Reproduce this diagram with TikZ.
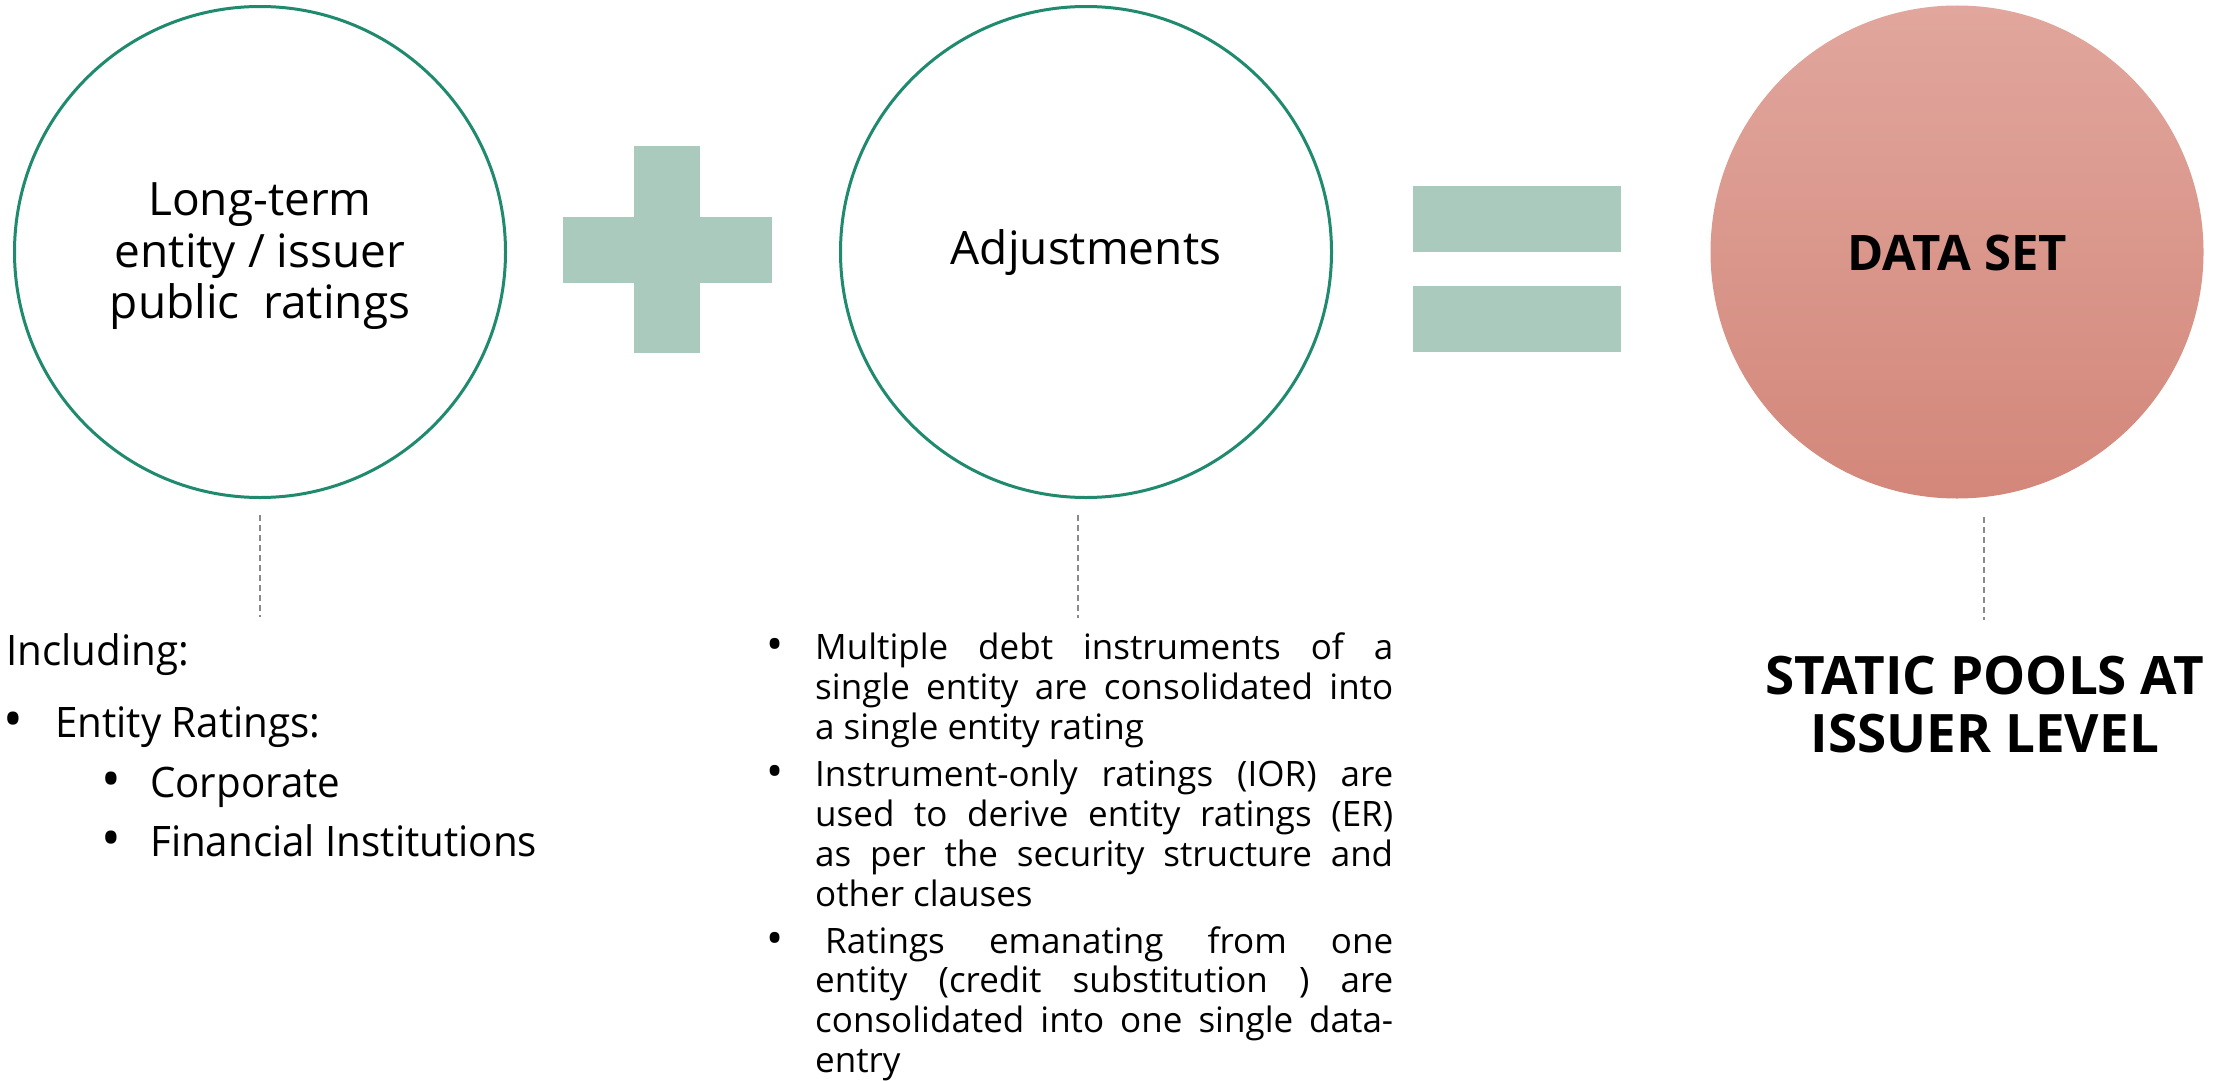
\documentclass[tikz,border=0pt]{standalone}
\usepackage{graphicx}
\usepackage{fontspec}
\setmainfont{Open Sans}
\newfontfamily\leftfont[FakeStretch=0.96]{Open Sans}
\definecolor{ringgreen}{HTML}{1F8A6E}
\definecolor{signgreen}{HTML}{AACABD}
\definecolor{dstop}{HTML}{E1A69D}
\definecolor{dsbot}{HTML}{D3877A}
\definecolor{dashgray}{HTML}{8A8A8A}
\tikzset{
  ring/.style={circle, draw=ringgreen, line width=3pt, minimum size=491pt, inner sep=0pt},
  dataset/.style={circle, draw=none, minimum size=493pt, inner sep=0pt, top color=dstop, bottom color=dsbot},
  sign/.style={fill=signgreen, draw=none},
  dashline/.style={draw=dashgray, line width=1.6pt, dash pattern=on 6pt off 4pt},
  bigtxt/.style={inner sep=0pt, anchor=base, font=\fontsize{46}{52}\selectfont},
  boldtxt/.style={inner sep=0pt, anchor=base, font=\fontsize{49}{56}\selectfont\bfseries},
  lefttxt/.style={inner sep=0pt, anchor=base west, font=\leftfont\fontsize{42}{50}\selectfont},
  midtxt/.style={inner sep=0pt, anchor=base west, font=\fontsize{35}{40}\selectfont},
}
\newcommand{\jline}[1]{\makebox[578pt][s]{#1}}
\newcommand{\bigbullet}{\raisebox{-0.03em}{\scalebox{1.3}{\textbullet}}}
\begin{document}
\begin{tikzpicture}[x=1pt,y=-1pt]
\useasboundingbox (0,0) rectangle (2216,1081);
\fill[white] (0,0) rectangle (2216,1081);
% circles
\node[ring] (c1) at (260,252) {};
\node[ring] (c2) at (1086,252) {};
\node[dataset] (c3) at (1957,252) {};
% plus and equals
\fill[sign] (634,146) rectangle (700,353);
\fill[sign] (563,217) rectangle (772,283);
\fill[sign] (1413,186) rectangle (1621,252);
\fill[sign] (1413,286) rectangle (1621,352);
% circle texts
\node[bigtxt] (t1a) at (260,215) {Long-term};
\node[bigtxt] (t1b) at (260,267) {entity / issuer};
\node[bigtxt] (t1c) at (260,318) {public\ \ ratings};
\node[bigtxt] (t2) at (1086,264) {Adjustments};
\node[boldtxt] (t3) at (1957,270) {DATA SET};
% dashed connectors
\coordinate (d1a) at (260,515); \coordinate (d1b) at (260,617);
\coordinate (d2a) at (1078,515); \coordinate (d2b) at (1078,618);
\coordinate (d3a) at (1984,517); \coordinate (d3b) at (1984,620);
\draw[dashline] (d1a) -- (d1b);
\draw[dashline] (d2a) -- (d2b);
\draw[dashline] (d3a) -- (d3b);
% left block
\node[lefttxt] (inc) at (6,665) {Including:};
\node[lefttxt] (b1) at (3.5,737) {\bigbullet};
\node[lefttxt] (er) at (55,737) {Entity Ratings:};
\node[lefttxt] (b2) at (101.5,797) {\bigbullet};
\node[lefttxt] (corp) at (150,797) {Corporate};
\node[lefttxt] (b3) at (101.5,856) {\bigbullet};
\node[lefttxt] (fin) at (150,856) {Financial Institutions};
% middle block
\node[midtxt] (mb1) at (766.5,659.3) {\bigbullet};
\node[midtxt] (m1) at (815,659.3) {\jline{Multiple debt instruments of a}};
\node[midtxt] (m2) at (815,699.3) {\jline{single entity are consolidated into}};
\node[midtxt] (m3) at (815,739) {a single entity rating};
\node[midtxt] (mb2) at (766.5,786.7) {\bigbullet};
\node[midtxt] (m4) at (815,786.7) {\jline{Instrument-only ratings (IOR) are}};
\node[midtxt] (m5) at (815,826.7) {\jline{used to derive entity ratings (ER)}};
\node[midtxt] (m6) at (815,866.7) {\jline{as per the security structure and}};
\node[midtxt] (m7) at (815,906.7) {other clauses};
\node[midtxt] (mb3) at (766.5,953) {\bigbullet};
\node[midtxt] (m8) at (815,953) {\jline{\hspace{10pt}Ratings emanating from one}};
\node[midtxt] (m9) at (815,992.7) {\jline{entity (credit substitution ) are}};
\node[midtxt] (m10) at (815,1032.7) {\jline{consolidated into one single data-}};
\node[midtxt] (m11) at (815,1072) {entry};
% right block
\node[boldtxt, font=\fontsize{53}{57}\selectfont\bfseries] (s1) at (1985,694) {STATIC POOLS AT};
\node[boldtxt, font=\fontsize{53}{57}\selectfont\bfseries] (s2) at (1985,752) {ISSUER LEVEL};
\end{tikzpicture}
\end{document}
